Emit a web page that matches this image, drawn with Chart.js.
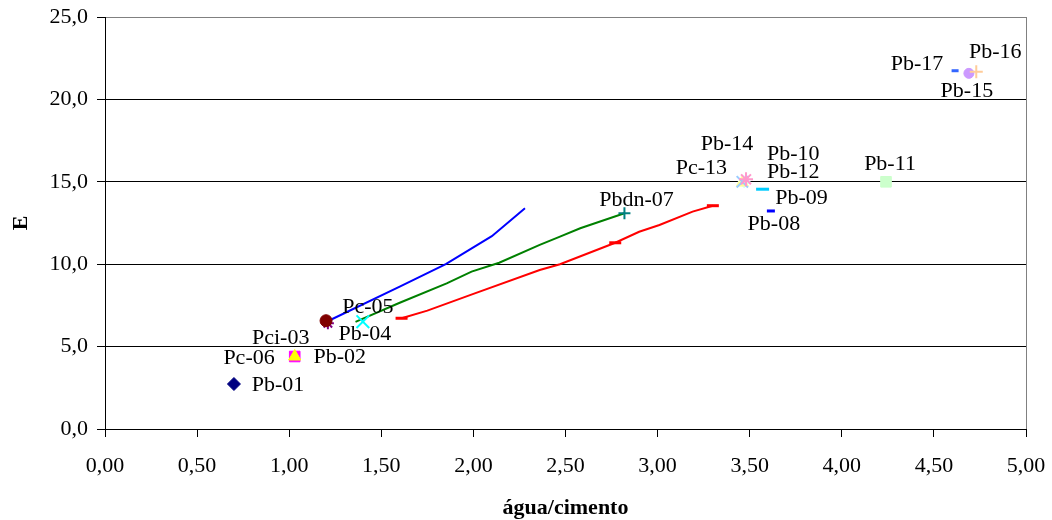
<!DOCTYPE html>
<html>
<head>
<meta charset="utf-8">
<script src="https://cdn.jsdelivr.net/npm/chart.js@4"></script>
<style>
  body { margin: 0; background: #fff; }
  canvas { display: block; }
</style>
</head>
<body>
<canvas id="grafico" width="1052" height="520"></canvas>
<script>
// pontos isolados (uma serie por corpo de prova)
const nomes  = ['Pb-01', 'Pb-02', 'Pci-03', 'Pb-04', 'Pc-05', 'Pc-06', 'Pbdn-07', 'Pb-08', 'Pb-09',
                'Pb-10', 'Pb-11', 'Pb-12', 'Pc-13', 'Pb-14', 'Pb-15', 'Pb-16', 'Pb-17'];
const aguaCimento = [0.70, 1.03, 1.03, 1.40, 1.21, 1.20, 2.82, 3.615, 3.57,
                     3.47, 4.24, 3.46, 3.46, 3.48, 4.69, 4.73, 4.615];
const valoresE = [2.73, 4.40, 4.40, 6.51, 6.42, 6.57, 13.09, 13.23, 14.55,
                  15.0, 15.0, 14.95, 15.0, 15.15, 21.58, 21.68, 21.74];

// curvas
const azulX = [1.22, 1.60, 1.85, 2.10, 2.28];
const azulY = [6.60, 8.64, 10.0, 11.70, 13.40];
const verdeX = [1.36, 1.60, 1.855, 1.99, 2.14, 2.36, 2.47, 2.58, 2.82];
const verdeY = [6.50, 7.66, 8.84, 9.55, 10.09, 11.17, 11.67, 12.18, 13.09];
const vermX = [1.61, 1.75, 2.00, 2.36, 2.47, 2.77, 2.90, 3.01, 3.19, 3.30];
const vermY = [6.72, 7.18, 8.20, 9.65, 10.00, 11.30, 11.97, 12.38, 13.19, 13.55];

const ticksY = [0, 5, 10, 15, 20, 25];
const ticksX = [0, 0.5, 1, 1.5, 2, 2.5, 3, 3.5, 4, 4.5, 5];

// estilo (cores e marcadores do Excel)
const cores = ['#000080', '#FF00FF', '#FFFF00', '#00FFFF', '#800080', '#800000', '#008080', '#0000FF', '#00CCFF',
               '#CCFFFF', '#CCFFCC', '#FFFF99', '#99CCFF', '#FF99CC', '#CC99FF', '#FFCC99', '#3366FF'];
const marcadores = ['rectRot', 'rect', 'triangle', 'crossRot', 'star', 'circle', 'cross', 'line', 'line',
                    'rectRot', 'rect', 'triangle', 'crossRot', 'star', 'circle', 'cross', 'line'];
const raios = [6.5, 7.5, 7, 9, 6, 6, 6, 4, 6.5, 6, 7.5, 7, 8, 7, 5, 6.5, 3.5];
// deslocamento dos rotulos em px (centro do texto)
const rotuloDx = [44, 45, -14, 2, 40, -77, 12, 3, 39, 49, 4, 51, -41, -19, -2, 19, -38];
const rotuloDy = [1, 1, -18, 13, -16, 37, -13, 13, 9, -28, -18, -10, -14, -35, 18, -19, -7];

Chart.defaults.font.family = "'Liberation Serif', 'Times New Roman', serif";
Chart.defaults.font.size = 22;
Chart.defaults.color = '#000';

function fmt(v, casas) {
  return v.toFixed(casas).replace('.', ',');
}

const datasets = [];
nomes.forEach(function(nome, i) {
  const contorno = ['crossRot', 'cross', 'star', 'line'].indexOf(marcadores[i]) >= 0;
  datasets.push({
    label: nome,
    data: [{x: aguaCimento[i], y: valoresE[i]}],
    pointStyle: marcadores[i],
    pointRadius: raios[i],
    pointBackgroundColor: cores[i],
    pointBorderColor: cores[i],
    pointBorderWidth: marcadores[i] === 'line' ? 3 : (contorno ? 2 : 1),
    showLine: false,
    order: 100 - i,
    rotulo: {dx: rotuloDx[i], dy: rotuloDy[i]}
  });
});

function curva(xs, ys, cor, ordem, raio) {
  return {
    label: '',
    data: xs.map(function(x, k) { return {x: x, y: ys[k]}; }),
    showLine: true,
    borderColor: cor,
    borderWidth: 2,
    pointStyle: 'line',
    pointRadius: raio,
    pointBorderColor: cor,
    pointBackgroundColor: cor,
    pointBorderWidth: 3,
    order: ordem
  };
}
datasets.push(curva(azulX, azulY, '#0000FF', 200, 0));
datasets.push(curva(verdeX, verdeY, '#008000', 201, 0));
datasets.push(curva(vermX, vermY, '#FF0000', 202,
  vermX.map(function(x, k) { return (k === 0 || k === 5 || k === vermX.length - 1) ? 6 : 0; })));

const rotulos = {
  id: 'rotulos',
  afterDatasetsDraw(chart) {
    const ctx = chart.ctx;
    ctx.save();
    ctx.font = "22px 'Liberation Serif', 'Times New Roman', serif";
    ctx.fillStyle = '#000';
    ctx.textAlign = 'center';
    ctx.textBaseline = 'middle';
    chart.data.datasets.forEach(function(ds, i) {
      if (!ds.rotulo) return;
      const p = chart.getDatasetMeta(i).data[0];
      ctx.fillText(ds.label, p.x + ds.rotulo.dx, p.y + ds.rotulo.dy);
    });
    ctx.restore();
  }
};

new Chart(document.getElementById('grafico'), {
  type: 'scatter',
  data: { datasets: datasets },
  plugins: [rotulos],
  options: {
    responsive: false,
    animation: false,
    devicePixelRatio: 1,
    layout: { padding: { top: 17, right: 26, left: 0, bottom: 0 } },
    plugins: { legend: { display: false }, tooltip: { enabled: false } },
    scales: {
      x: {
        type: 'linear',
        min: ticksX[0],
        max: ticksX[ticksX.length - 1],
        afterBuildTicks: function(s) { s.ticks = ticksX.map(function(v) { return {value: v}; }); },
        afterFit: function(s) { s.height = 91; s.paddingLeft = 0; s.paddingRight = 0; },
        ticks: { padding: 16, maxRotation: 0, callback: function(v) { return fmt(v, 2); } },
        grid: {
          color: function(c) { return c.tick && c.tick.value === 5 ? '#808080' : 'rgba(0,0,0,0)'; },
          tickColor: '#000',
          tickLength: 8
        },
        border: { color: '#000', width: 1 },
        title: {
          display: true,
          text: 'água/cimento',
          font: { weight: 'bold', size: 22, lineHeight: 1 },
          padding: { top: 0, bottom: 1 }
        }
      },
      y: {
        type: 'linear',
        min: ticksY[0],
        max: ticksY[ticksY.length - 1],
        afterBuildTicks: function(s) { s.ticks = ticksY.map(function(v) { return {value: v}; }); },
        afterFit: function(s) { s.width = 105; s.paddingTop = 0; s.paddingBottom = 0; },
        ticks: { padding: 9, callback: function(v) { return fmt(v, 1); } },
        grid: {
          color: function(c) { return c.tick && c.tick.value === 25 ? '#808080' : '#000'; },
          tickColor: '#000',
          tickLength: 8
        },
        border: { color: '#000', width: 1 },
        title: {
          display: true,
          text: 'E',
          font: { weight: 'bold', size: 22, lineHeight: 1.2 },
          padding: { top: 8, bottom: 0 }
        }
      }
    }
  }
});
</script>
</body>
</html>
